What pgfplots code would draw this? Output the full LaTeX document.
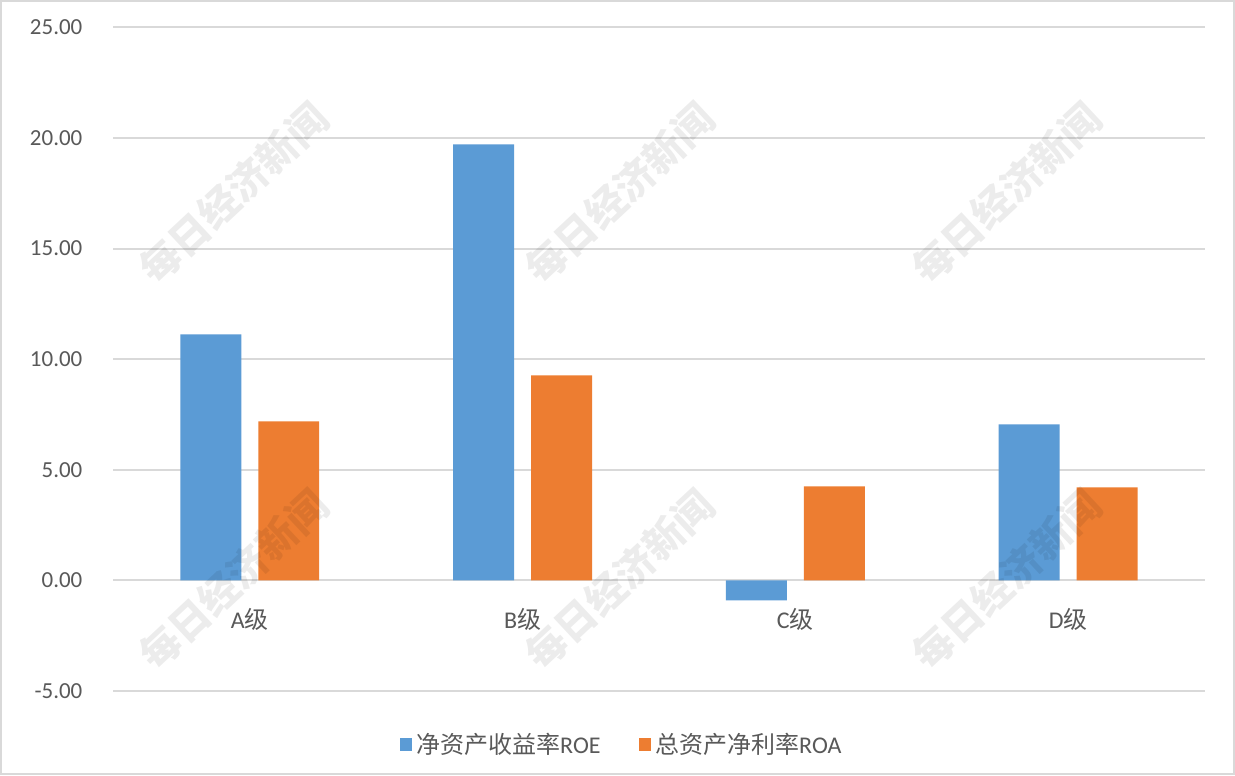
\documentclass[border=0pt]{standalone}
\usepackage{pgfplots}
\pgfplotsset{compat=1.18}
\usepackage{fontspec}
\setmainfont{Carlito}
\newfontfamily\cjk{Noto Sans CJK SC}
\definecolor{cblue}{HTML}{5B9BD5}
\definecolor{corange}{HTML}{ED7D31}
\definecolor{cgrid}{HTML}{D9D9D9}
\definecolor{ctext}{HTML}{595959}
\begin{document}
\begin{tikzpicture}[x=0.5pt,y=0.5pt]
\fill[white] (0,0) rectangle (1235,775);
\draw[cgrid, line width=1pt] (0.5,0.5) rectangle (1234.5,774.5);
\begin{axis}[
  at={(56.5pt,42pt)}, anchor=south west,
  scale only axis, width=546pt, height=332pt,
  xmin=-0.5, xmax=3.5, ymin=-5, ymax=25,
  ytick={-5,0,5,10,15,20,25},
  xtick={0,1,2,3},
  xticklabels={A{\cjk 级},B{\cjk 级},C{\cjk 级},D{\cjk 级}},
  axis x line*=middle, axis y line*=left,
  axis line style={draw=none},
  major tick length=0pt,
  ymajorgrids, grid style={cgrid, line width=1pt},
  ybar=8.5pt, bar width=30.5pt,
  /pgf/number format/assume math mode=true,
  yticklabel style={/pgf/number format/.cd, fixed, fixed zerofill, precision=2, /tikz/.cd, font=\fontsize{11.5}{13}\selectfont, text=ctext, xshift=-12pt},
  xticklabel style={font=\fontsize{12}{14}\selectfont, text=ctext, yshift=-10.5pt},
  legend style={draw=none, fill=none, at={(0.4666,-0.081)}, anchor=center, legend columns=2, font=\fontsize{12}{14}\selectfont, text=ctext, /tikz/every even column/.append style={column sep=17pt}},
  legend image code/.code={\fill[#1] (0pt,-3.1pt) rectangle (6.4pt,3.1pt);},
]
\addplot[fill=cblue, draw=none] coordinates {(0,11.12) (1,19.71) (2,-0.90) (3,7.05)};
\addplot[fill=corange, draw=none] coordinates {(0,7.19) (1,9.27) (2,4.25) (3,4.20)};
\legend{{\cjk 净资产收益率}ROE,{\cjk 总资产净利率}ROA}
\end{axis}
\foreach \px/\py in {233/580, 620/580, 1007/580, 233/193, 620/193, 1007/193}{
  \node[rotate=43, text=black, opacity=0.075, font=\cjk\bfseries\fontsize{20}{20}\selectfont] at (\px,775-\py) {每日经济新闻};
}
\end{tikzpicture}
\end{document}
